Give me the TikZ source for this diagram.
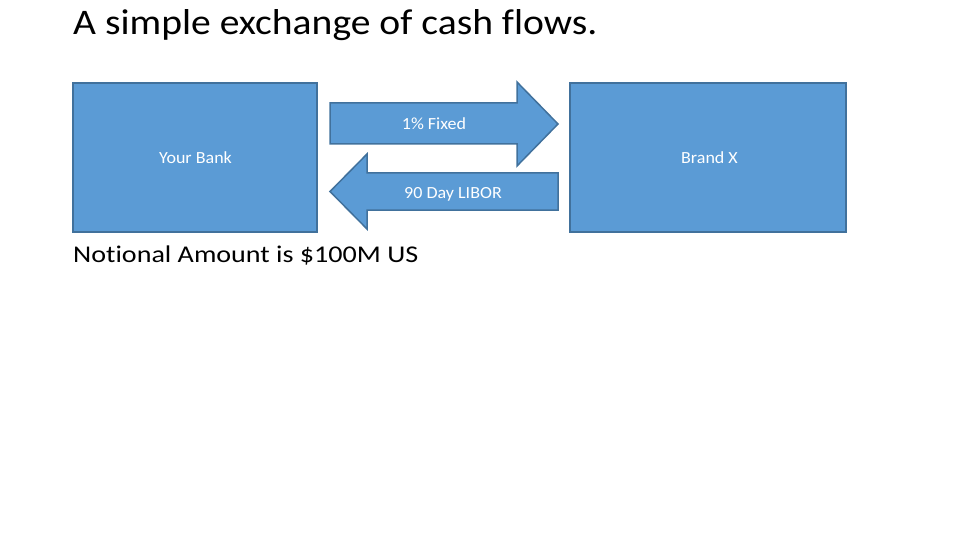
\documentclass[tikz,border=0pt]{standalone}
\usepackage{fontspec}
\setmainfont{Carlito}[Ligatures=NoCommon]
\definecolor{boxfill}{HTML}{5B9BD5}
\definecolor{boxline}{HTML}{41719C}
\tikzset{
  blue shape/.style={fill=boxfill, draw=boxline, line width=1.5pt, line join=miter},
  boxlabel/.style={text=white, font=\fontsize{17}{20}\selectfont, inner sep=0pt, anchor=base},
}
\newcommand{\wide}[2]{\scalebox{#1}[1]{#2}}
\begin{document}
\begin{tikzpicture}[x=1pt,y=-1pt]
\useasboundingbox (0,0) rectangle (960,540);
% title
\node[anchor=base west, inner sep=0pt, font=\fontsize{36}{43}\selectfont] (title) at (73,35) {\wide{1.10}{A simple exchange of cash flows.}};
% boxes
\node[blue shape, minimum width=244pt, minimum height=149pt, inner sep=0pt] (bank) at (195,157.5) {};
\node[boxlabel] (banklbl) at (195.5,163.3) {\wide{1.06}{Your Bank}};
\node[blue shape, minimum width=276pt, minimum height=149pt, inner sep=0pt] (brand) at (708,157.5) {};
\node[boxlabel] (brandlbl) at (709.5,163.3) {\wide{1.06}{Brand X}};
% right arrow
\draw[blue shape] (330,103) -- (517,103) -- (517,82) -- (558,124) -- (517,166) -- (517,144) -- (330,144) -- cycle;
\node[boxlabel] (fixed) at (434,130) {\wide{1.06}{1\% Fixed}};
% left arrow
\draw[blue shape] (558,173) -- (367,173) -- (367,154) -- (330,191.5) -- (367,229) -- (367,210) -- (558,210) -- cycle;
\node[boxlabel] (libor) at (453,198.3) {\wide{1.06}{90 Day LIBOR}};
% notional
\node[anchor=base west, inner sep=0pt, font=\fontsize{24}{29}\selectfont] (notional) at (73,262) {\wide{1.17}{Notional Amount is \$100M US}};
\end{tikzpicture}
\end{document}
